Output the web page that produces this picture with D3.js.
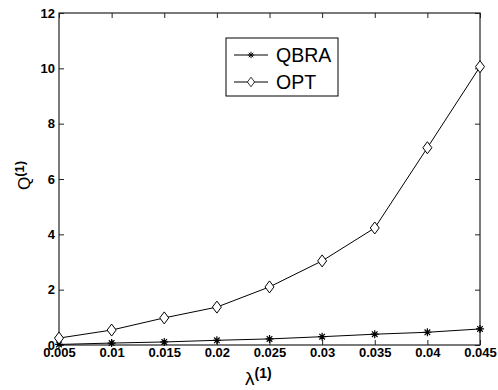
<!doctype html>
<html>
  <head>
    <script src="https://cdn.jsdelivr.net/npm/d3@7"></script>
    <style>
      body { margin: 0; background: #fff; }
      text { font-family: Arial, "Liberation Sans", sans-serif; fill: #000; }
    </style>
  </head>
  <body>
    <script>
        var lambdas = [0.005, 0.01, 0.015, 0.02, 0.025, 0.03, 0.035, 0.04, 0.045];
        var qbra = [0.02, 0.07, 0.11, 0.17, 0.22, 0.30, 0.39, 0.46, 0.58];
        var opt = [0.25, 0.54, 0.98, 1.37, 2.1, 3.04, 4.23, 7.13, 10.06];
        var xTicks = ["0.005", "0.01", "0.015", "0.02", "0.025", "0.03", "0.035", "0.04", "0.045"];
        var yTicks = [0, 2, 4, 6, 8, 10, 12];

        var W = 498, H = 390;
        var margin = {top: 13, left: 59, right: 18, bottom: 45};
        var width = W - margin.left - margin.right,
            height = H - margin.top - margin.bottom;

        var svg = d3.select("body").append("svg")
            .attr("width", W)
            .attr("height", H);

        var g = svg.append("g")
            .attr("transform", `translate(${margin.left},${margin.top})`);

        var x = d3.scaleLinear().domain([0.005, 0.045]).range([0, width]);
        var y = d3.scaleLinear().domain([0, 12]).range([height, 0]);

        // axes (MATLAB style: ticks inside, box all around)
        var tl = 5;
        var xAxis = d3.axisBottom(x).tickValues(lambdas).tickFormat((d, i) => xTicks[i]).tickSizeInner(-tl).tickSizeOuter(0).tickPadding(4);
        var yAxis = d3.axisLeft(y).tickValues(yTicks).tickSizeInner(-tl).tickSizeOuter(0).tickPadding(4);

        var gx = g.append("g").attr("transform", `translate(0,${height})`).call(xAxis);
        var gy = g.append("g").call(yAxis);
        g.append("g").call(d3.axisTop(x).tickValues(lambdas).tickFormat("").tickSizeInner(-tl).tickSizeOuter(0));
        g.append("g").attr("transform", `translate(${width},0)`).call(d3.axisRight(y).tickValues(yTicks).tickFormat("").tickSizeInner(-tl).tickSizeOuter(0));

        g.selectAll(".domain").remove();
        g.selectAll(".tick line").attr("stroke", "#222");
        [gx, gy].forEach(a => a.selectAll("text").style("font-size", "13px").style("font-weight", "bold"));
        gx.selectAll("text").attr("dy", "0.6em");

        g.append("rect")
            .attr("width", width).attr("height", height)
            .attr("fill", "none").attr("stroke", "#222").attr("stroke-width", 1.2);

        // lines
        var line = d3.line().x((d, i) => x(lambdas[i])).y(d => y(d));

        function star(sel) {
            var s = 4;
            sel.append("path")
                .attr("d", `M${-s},0H${s}M0,${-s}V${s}M${-s*0.7},${-s*0.7}L${s*0.7},${s*0.7}M${-s*0.7},${s*0.7}L${s*0.7},${-s*0.7}`)
                .attr("stroke", "#000").attr("stroke-width", 1.2).attr("fill", "none");
        }
        function diamond(sel) {
            sel.append("path")
                .attr("d", "M0,-6L4.5,0L0,6L-4.5,0Z")
                .attr("stroke", "#000").attr("stroke-width", 1).attr("fill", "#fff");
        }

        var series = [
            {name: "QBRA", values: qbra, marker: star},
            {name: "OPT", values: opt, marker: diamond}
        ];

        series.forEach(function(s) {
            g.append("path").datum(s.values)
                .attr("d", line)
                .attr("fill", "none").attr("stroke", "#000").attr("stroke-width", 1);
            g.selectAll(".m-" + s.name).data(s.values).enter().append("g")
                .attr("class", "m-" + s.name)
                .attr("transform", (d, i) => `translate(${x(lambdas[i])},${y(d)})`)
                .call(s.marker);
        });

        // legend
        var lg = svg.append("g").attr("transform", "translate(226,38)");
        lg.append("rect").attr("width", 112).attr("height", 58)
            .attr("fill", "#fff").attr("stroke", "#000").attr("stroke-width", 1);
        series.forEach(function(s, i) {
            var yy = 17 + i * 27;
            lg.append("line").attr("x1", 8).attr("x2", 42).attr("y1", yy).attr("y2", yy)
                .attr("stroke", "#000").attr("stroke-width", 1);
            lg.append("g").attr("transform", `translate(25,${yy}) scale(0.8)`).call(s.marker);
            lg.append("text").attr("x", 50).attr("y", yy).attr("dy", "0.36em")
                .attr("font-size", 19.5).text(s.name);
        });

        // axis titles
        var xl = svg.append("text").attr("x", 245).attr("y", 385).attr("font-size", 19);
        xl.append("tspan").text("λ");
        xl.append("tspan").attr("dy", -7).attr("font-size", 14).attr("font-weight", "bold").text("(1)");

        var yl = svg.append("text").attr("transform", "translate(30,190) rotate(-90)").attr("font-size", 17);
        yl.append("tspan").text("Q");
        yl.append("tspan").attr("dy", -6).attr("font-size", 13).attr("font-weight", "bold").text("(1)");
    </script>
  </body>
</html>
